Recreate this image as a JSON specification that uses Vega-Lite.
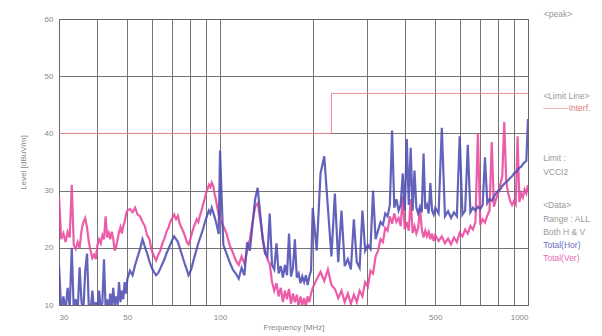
{
  "$schema": "https://vega.github.io/schema/vega-lite/v6.json",
  "width": 469,
  "height": 286,
  "autosize": {"type": "none"},
  "padding": {"left": 59, "top": 19, "right": 74, "bottom": 31},
  "background": "white",
  "config": {
    "view": {"stroke": "#666", "strokeWidth": 1},
    "font": "Liberation Sans",
    "axis": {
      "labelFont": "Liberation Sans", "labelFontSize": 8, "labelColor": "#888",
      "titleFont": "Liberation Sans", "titleFontSize": 8, "titleColor": "#888", "titleFontWeight": "normal",
      "gridColor": "#666", "gridOpacity": 0.9, "gridWidth": 1, "domain": false, "ticks": false
    }
  },
  "datasets": {
    "emi": [
      {"f":30,"h":17,"v":29},{"f":30.5,"h":9,"v":21.5},{"f":31,"h":11.5,"v":22.5},{"f":31.5,"h":9,"v":21},{"f":32,"h":13,"v":22.8},
      {"f":32.5,"h":9.5,"v":21.8},{"f":33,"h":20,"v":31},{"f":33.5,"h":9,"v":20.5},{"f":34,"h":11,"v":19.8},{"f":34.5,"h":9,"v":21},
      {"f":35,"h":16.6,"v":20},{"f":35.5,"h":10.5,"v":23},{"f":36,"h":9,"v":24.5},{"f":36.5,"h":16,"v":25.2},{"f":37,"h":19,"v":23.5},
      {"f":37.5,"h":9.5,"v":21},{"f":38,"h":9,"v":19.5},{"f":38.5,"h":12.5,"v":18.2},{"f":39,"h":9,"v":18.8},{"f":39.5,"h":10.5,"v":18},
      {"f":40,"h":9,"v":20.5},{"f":40.5,"h":12.5,"v":21.5},{"f":41,"h":9,"v":20.8},{"f":41.5,"h":10.5,"v":22.2},{"f":42,"h":18,"v":21.5},
      {"f":42.5,"h":9.5,"v":25.5},{"f":43,"h":11,"v":21.8},{"f":43.5,"h":9,"v":22.6},{"f":44,"h":12,"v":21.5},{"f":44.5,"h":9.5,"v":22.8},
      {"f":45,"h":13,"v":21.6},{"f":45.5,"h":10,"v":19.5},{"f":46,"h":11.5,"v":20.2},{"f":46.5,"h":10,"v":21.5},{"f":47,"h":14,"v":22.8},
      {"f":47.5,"h":10.5,"v":23.6},{"f":48,"h":12.5,"v":22.5},{"f":48.5,"h":11,"v":23.8},{"f":49,"h":14,"v":24.5},{"f":49.5,"h":12,"v":25.8},
      {"f":50,"h":14.5,"v":26.5},
      {"f":51,"h":16,"v":26.8},{"f":52,"h":15.2,"v":26.2},{"f":53,"h":17,"v":27},{"f":54,"h":18.4,"v":25.8},{"f":55,"h":19.8,"v":25.5},
      {"f":56,"h":21.5,"v":24.5},{"f":57,"h":20.2,"v":23.8},{"f":58,"h":19,"v":22.2},{"f":59,"h":17.6,"v":21.5},{"f":60,"h":16.5,"v":19.5},
      {"f":61,"h":15.8,"v":18.6},{"f":62,"h":15.2,"v":17.8},{"f":63,"h":15.6,"v":18.8},{"f":64,"h":16.4,"v":19.5},{"f":65,"h":17.2,"v":20.8},
      {"f":66,"h":18,"v":21.6},{"f":67,"h":19,"v":22.8},{"f":68,"h":19.8,"v":23.5},{"f":69,"h":20.6,"v":24.6},{"f":70,"h":21.4,"v":25.2},
      {"f":71,"h":22,"v":25.8},{"f":72,"h":21.5,"v":25},{"f":73,"h":21,"v":25.6},{"f":74,"h":20,"v":24.2},{"f":75,"h":19,"v":23.5},
      {"f":76,"h":18,"v":22.8},{"f":77,"h":17,"v":22},{"f":78,"h":16.2,"v":21},{"f":79,"h":15.2,"v":20.6},{"f":80,"h":15.8,"v":21.4},
      {"f":81,"h":16.6,"v":22.5},{"f":82,"h":17.8,"v":23.5},{"f":83,"h":18.8,"v":24.2},{"f":84,"h":19.8,"v":25},{"f":85,"h":20.8,"v":24.5},
      {"f":86,"h":21.6,"v":25.6},{"f":87,"h":22.4,"v":26.4},{"f":88,"h":23.2,"v":27.5},{"f":89,"h":24.2,"v":28.4},{"f":90,"h":25,"v":29.5},
      {"f":91,"h":25.8,"v":30.2},{"f":92,"h":26.5,"v":31},{"f":93,"h":26,"v":30.6},{"f":94,"h":27,"v":31.4},{"f":95,"h":26.2,"v":30.8},
      {"f":96,"h":25.4,"v":29.5},{"f":97,"h":24.5,"v":28.4},{"f":98,"h":23.5,"v":27},{"f":99,"h":22.4,"v":25.8},{"f":100,"h":37,"v":25},
      {"f":102.5,"h":20.5,"v":23.8},{"f":105,"h":19,"v":22.5},{"f":107.5,"h":17.5,"v":20.4},{"f":110,"h":16.2,"v":19.2},{"f":112.5,"h":15.5,"v":17.8},
      {"f":115,"h":14.6,"v":17},{"f":117.5,"h":16.5,"v":18.5},{"f":120,"h":15.2,"v":17.2},{"f":122.5,"h":21,"v":19.5},{"f":125,"h":19.5,"v":21.5},
      {"f":127.5,"h":24,"v":24.5},{"f":130,"h":28.5,"v":27.2},{"f":132.5,"h":30.5,"v":27.8},{"f":135,"h":26,"v":25},{"f":137.5,"h":21.5,"v":22},
      {"f":140,"h":19,"v":19.5},{"f":142.5,"h":18.5,"v":18},{"f":145,"h":26,"v":17.2},{"f":147.5,"h":17,"v":14},{"f":150,"h":16.2,"v":12.5},
      {"f":152.5,"h":20.8,"v":13.8},{"f":155,"h":15.5,"v":11.5},{"f":157.5,"h":16.8,"v":13},{"f":160,"h":14.8,"v":10.5},{"f":162.5,"h":17,"v":12.5},
      {"f":165,"h":15.2,"v":11},{"f":167.5,"h":22.5,"v":12.8},{"f":170,"h":15,"v":10.2},{"f":172.5,"h":16.4,"v":12},{"f":175,"h":21.5,"v":10.5},
      {"f":177.5,"h":14.8,"v":11.8},{"f":180,"h":15.5,"v":9.8},{"f":182.5,"h":13.8,"v":11.5},{"f":185,"h":15,"v":10},{"f":187.5,"h":14,"v":11.2},
      {"f":190,"h":15.2,"v":9.8},{"f":192.5,"h":13.5,"v":11.5},{"f":195,"h":15,"v":10.5},{"f":197.5,"h":16,"v":12},{"f":200,"h":27,"v":13},
      {"f":206,"h":19.5,"v":14.5},{"f":212,"h":33,"v":15.8},{"f":218,"h":36,"v":14.2},{"f":224,"h":27,"v":16.2},{"f":230,"h":18.5,"v":13.5},
      {"f":236,"h":29.5,"v":12.8},{"f":242,"h":17.5,"v":11.2},{"f":248,"h":26.5,"v":12.5},{"f":254,"h":16.8,"v":10.5},{"f":260,"h":18,"v":12},
      {"f":266,"h":16.2,"v":10.2},{"f":272,"h":25,"v":11.8},{"f":278,"h":17.5,"v":10.5},{"f":284,"h":16.5,"v":12.5},{"f":290,"h":26.5,"v":11.5},
      {"f":296,"h":19.5,"v":14},{"f":302,"h":20.5,"v":13.2},{"f":308,"h":19.8,"v":16},{"f":314,"h":30,"v":15.5},{"f":320,"h":21.5,"v":18.5},
      {"f":326,"h":23,"v":19.5},{"f":332,"h":24.5,"v":21.5},{"f":338,"h":24,"v":21},{"f":344,"h":26,"v":23.5},{"f":350,"h":25.5,"v":23},
      {"f":356,"h":27.5,"v":25.5},{"f":362,"h":40.5,"v":24.2},{"f":368,"h":27,"v":26},{"f":374,"h":28.5,"v":24.5},{"f":380,"h":26.5,"v":25.2},
      {"f":386,"h":27.5,"v":23.8},{"f":392,"h":33,"v":29},{"f":398,"h":26.5,"v":23.2},{"f":404,"h":39,"v":24.5},{"f":410,"h":27.5,"v":23},
      {"f":416,"h":37.5,"v":28.5},{"f":422,"h":26.5,"v":22.6},{"f":428,"h":33.5,"v":23.8},{"f":434,"h":27,"v":22.5},{"f":440,"h":26,"v":23.5},
      {"f":446,"h":27.2,"v":27},{"f":452,"h":26.2,"v":23.2},{"f":458,"h":36.5,"v":21.8},{"f":464,"h":26.8,"v":23},{"f":470,"h":27.5,"v":22},
      {"f":476,"h":26,"v":22.8},{"f":482,"h":31.3,"v":21.5},{"f":488,"h":26.5,"v":22.5},{"f":494,"h":25.8,"v":21.2},{"f":500,"h":27,"v":22.2},
      {"f":512.5,"h":26,"v":21.2},{"f":525,"h":41,"v":22},{"f":537.5,"h":25.5,"v":20.8},{"f":550,"h":26.4,"v":21.6},{"f":562.5,"h":25.2,"v":20.6},
      {"f":575,"h":26.2,"v":21.8},{"f":587.5,"h":25.5,"v":21},{"f":600,"h":39.5,"v":22.6},{"f":612.5,"h":25.8,"v":22},{"f":625,"h":26.5,"v":23.2},
      {"f":637.5,"h":38,"v":22.5},{"f":650,"h":26.2,"v":23.8},{"f":662.5,"h":27,"v":23.2},{"f":675,"h":26.5,"v":24.5},{"f":687.5,"h":27.2,"v":40},
      {"f":700,"h":26.8,"v":24},{"f":712.5,"h":27.5,"v":25},{"f":725,"h":35.8,"v":24.4},{"f":737.5,"h":27.8,"v":25.6},{"f":750,"h":28.5,"v":26.5},
      {"f":762.5,"h":28.2,"v":38.5},{"f":775,"h":29,"v":27.2},{"f":787.5,"h":29.5,"v":28.5},{"f":800,"h":30,"v":29.5},{"f":812.5,"h":30.2,"v":31},
      {"f":825,"h":30.8,"v":32.5},{"f":837.5,"h":31.2,"v":42},{"f":850,"h":31.5,"v":31.5},{"f":862.5,"h":31.8,"v":29.5},{"f":875,"h":32.2,"v":28.2},
      {"f":887.5,"h":32.5,"v":27.5},{"f":900,"h":33,"v":28.2},{"f":912.5,"h":33.2,"v":27.6},{"f":925,"h":33.6,"v":39.5},{"f":937.5,"h":34,"v":28},
      {"f":950,"h":34.2,"v":29.5},{"f":962.5,"h":34.6,"v":28.8},{"f":975,"h":35,"v":30.2},{"f":987.5,"h":35.2,"v":29.5},{"f":1000,"h":42.5,"v":31}
    ],
    "limit": [{"f":30,"l":40},{"f":230,"l":47},{"f":1000,"l":47}]
  },
  "encoding": {
    "x": {"type": "quantitative", "scale": {"type": "log", "domain": [30, 1000], "nice": false}},
    "y": {"type": "quantitative", "scale": {"domain": [10, 60], "nice": false}}
  },
  "layer": [
    {
      "data": {"name": "emi"},
      "transform": [{"fold": ["v", "h"], "as": ["s", "val"]}],
      "mark": {"type": "line", "clip": true, "strokeWidth": 2.2, "opacity": 0.88},
      "encoding": {
        "x": {"field": "f", "type": "quantitative",
          "scale": {"type": "log", "domain": [30, 1000], "nice": false},
          "axis": {"values": [30,40,50,60,70,80,90,100,200,300,400,500,600,700,800,900,1000],
            "labelExpr": "indexof([30,50,100,500,1000], datum.value) >= 0 ? format(datum.value, 'd') : ''",
            "labelPadding": 8, "title": "Frequency  [MHz]", "titlePadding": 2, "grid": true}},
        "y": {"field": "val", "type": "quantitative",
          "scale": {"domain": [10, 60], "nice": false},
          "axis": {"values": [10,15,20,25,30,35,40,45,50,55,60],
            "labelExpr": "datum.value % 10 === 0 ? datum.label : ''",
            "labelPadding": 6, "title": "Level  [dBuV/m]", "titlePadding": 17, "grid": true}},
        "color": {"field": "s", "type": "nominal",
          "scale": {"domain": ["v", "h"], "range": ["#e8479d", "#4d4db3"]}, "legend": null}
      }
    },
    {
      "data": {"name": "limit"},
      "mark": {"type": "line", "interpolate": "step-after", "color": "#f08a8a", "strokeWidth": 1},
      "encoding": {
        "x": {"field": "f", "type": "quantitative"},
        "y": {"field": "l", "type": "quantitative"}
      }
    },
    {"data": {"values": [{"t": "<peak>"}]}, "mark": {"type": "text", "align": "left", "baseline": "middle", "fontSize": 8.5, "color": "#999"},
      "encoding": {"x": {"datum": 1125}, "y": {"datum": 60.87}, "text": {"field": "t"}}},
    {"data": {"values": [{"t": "<Limit Line>"}]}, "mark": {"type": "text", "align": "left", "baseline": "middle", "fontSize": 8.5, "color": "#999"},
      "encoding": {"x": {"datum": 1120}, "y": {"datum": 46.54}, "text": {"field": "t"}}},
    {"data": {"values": [{"t": "———Interf."}]}, "mark": {"type": "text", "align": "left", "baseline": "middle", "fontSize": 8.5, "color": "#e07a7a"},
      "encoding": {"x": {"datum": 1120}, "y": {"datum": 44.44}, "text": {"field": "t"}}},
    {"data": {"values": [{"t": "Limit :"}]}, "mark": {"type": "text", "align": "left", "baseline": "middle", "fontSize": 8.5, "color": "#999"},
      "encoding": {"x": {"datum": 1120}, "y": {"datum": 35.7}, "text": {"field": "t"}}},
    {"data": {"values": [{"t": "VCCI2"}]}, "mark": {"type": "text", "align": "left", "baseline": "middle", "fontSize": 8.5, "color": "#999"},
      "encoding": {"x": {"datum": 1120}, "y": {"datum": 33.25}, "text": {"field": "t"}}},
    {"data": {"values": [{"t": "<Data>"}]}, "mark": {"type": "text", "align": "left", "baseline": "middle", "fontSize": 8.5, "color": "#999"},
      "encoding": {"x": {"datum": 1120}, "y": {"datum": 27.48}, "text": {"field": "t"}}},
    {"data": {"values": [{"t": "Range : ALL"}]}, "mark": {"type": "text", "align": "left", "baseline": "middle", "fontSize": 8.5, "color": "#999"},
      "encoding": {"x": {"datum": 1120}, "y": {"datum": 25.03}, "text": {"field": "t"}}},
    {"data": {"values": [{"t": "Both H & V"}]}, "mark": {"type": "text", "align": "left", "baseline": "middle", "fontSize": 8.5, "color": "#999"},
      "encoding": {"x": {"datum": 1120}, "y": {"datum": 22.76}, "text": {"field": "t"}}},
    {"data": {"values": [{"t": "Total(Hor)"}]}, "mark": {"type": "text", "align": "left", "baseline": "middle", "fontSize": 8.5, "color": "#6a6ac4"},
      "encoding": {"x": {"datum": 1120}, "y": {"datum": 20.49}, "text": {"field": "t"}}},
    {"data": {"values": [{"t": "Total(Ver)"}]}, "mark": {"type": "text", "align": "left", "baseline": "middle", "fontSize": 8.5, "color": "#e66ab4"},
      "encoding": {"x": {"datum": 1120}, "y": {"datum": 18.22}, "text": {"field": "t"}}}
  ]
}
